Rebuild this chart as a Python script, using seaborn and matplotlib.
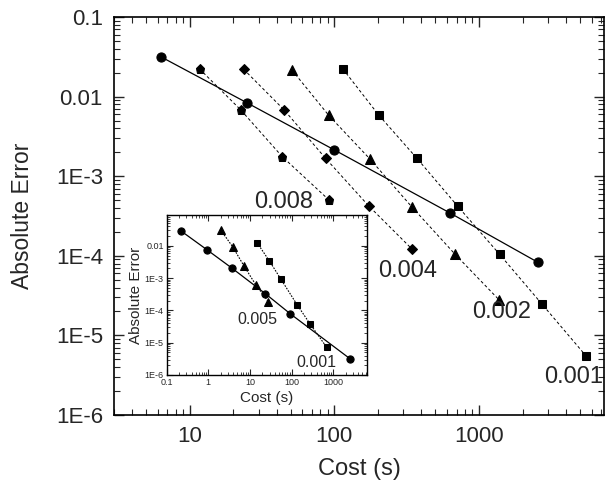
import numpy as np
import pandas as pd
import matplotlib
matplotlib.use("Agg")
import matplotlib.pyplot as plt
import seaborn as sns
from matplotlib.ticker import FuncFormatter, LogLocator, NullFormatter

# ---------------- data (main) ----------------
circ_cost = [6.3, 25.1, 100, 627, 2548]
circ_err = [0.0318, 0.0083, 0.00214, 3.47e-4, 8.3e-5]

p008_cost = [11.7, 22.5, 43.8, 91.6]
p008_err = [0.0223, 0.00684, 0.00175, 5.05e-4]

d004_cost = [23.6, 45.0, 86.9, 172.5, 342]
d004_err = [0.0221, 0.0068, 0.00168, 4.25e-4, 1.23e-4]

t002_cost = [51, 91.6, 176, 344, 685, 1375]
t002_err = [0.0215, 0.0058, 0.00165, 4.1e-4, 1.04e-4, 2.8e-5]

s001_cost = [114.5, 202, 372, 712, 1390, 2730, 5500]
s001_err = [0.0223, 0.00591, 0.00168, 4.2e-4, 1.04e-4, 2.46e-5, 5.5e-6]

# ---------------- data (inset) ----------------
in_circ_cost = [0.22, 0.92, 3.73, 23.4, 94, 2520]
in_circ_err = [0.0292, 0.00767, 0.00203, 3.32e-4, 7.8e-5, 3.2e-6]

in_t005_cost = [1.99, 3.86, 7.2, 14, 28]
in_t005_err = [0.031, 0.0094, 0.0024, 6.1e-4, 1.85e-4]

in_s001_cost = [14.8, 29, 55, 136, 279, 698]
in_s001_err = [0.0126, 0.0035, 9.5e-4, 1.5e-4, 3.8e-5, 7.2e-6]

main_labels = ["0.008", "0.004", "0.002", "0.001"]
inset_labels = ["0.005", "0.001"]
y_tick_vals = [1e-6, 1e-5, 1e-4, 1e-3, 1e-2, 1e-1]
y_tick_text = ["1E-6", "1E-5", "1E-4", "1E-3", "0.01", "0.1"]

sns.set_theme(style="ticks")
plt.rcParams['font.family'] = ['Liberation Sans', 'DejaVu Sans']

fig = plt.figure(figsize=(6.07, 4.87), dpi=100)
ax = fig.add_axes([0.1878, 0.1478, 0.8072, 0.8172])


def ylab(v, pos):
    for tv, tt in zip(y_tick_vals, y_tick_text):
        if abs(np.log10(v) - np.log10(tv)) < 1e-6:
            return tt
    return ""


def xlab(v, pos):
    if v >= 1:
        return "%d" % round(v)
    return "%g" % v


def draw(axis, x, y, marker, ls, ms, lw, dashes=None):
    df = pd.DataFrame({"x": x, "y": y})
    kw = dict(color="black", marker=marker, markersize=ms, linewidth=lw,
              markeredgecolor="black", markerfacecolor="black", sort=False,
              estimator=None, ax=axis, legend=False)
    if ls == "-":
        sns.lineplot(data=df, x="x", y="y", linestyle="-", **kw)
    else:
        sns.lineplot(data=df, x="x", y="y", dashes=False, **kw)
        axis.lines[-1].set_dashes(dashes)


ax.set_xscale("log")
ax.set_yscale("log")

draw(ax, circ_cost, circ_err, "o", "-", 6.6, 0.9)
draw(ax, p008_cost, p008_err, "p", "--", 6.8, 0.7, (3, 2.5))
draw(ax, d004_cost, d004_err, "D", "--", 5.6, 0.7, (3, 2.5))
draw(ax, t002_cost, t002_err, "^", "--", 7.0, 0.7, (3, 2.5))
draw(ax, s001_cost, s001_err, "s", "--", 5.8, 0.7, (3, 2.5))

ax.set_xlim(3.0, 7300)
ax.set_ylim(1e-6, 0.1)
ax.set_xlabel("Cost (s)", fontsize=17, labelpad=8)
ax.set_ylabel("Absolute Error", fontsize=16.5, labelpad=16)
ax.yaxis.set_major_locator(LogLocator(base=10, numticks=10))
ax.yaxis.set_major_formatter(FuncFormatter(ylab))
ax.yaxis.set_minor_formatter(NullFormatter())
ax.xaxis.set_major_locator(LogLocator(base=10, numticks=10))
ax.xaxis.set_major_formatter(FuncFormatter(xlab))
ax.xaxis.set_minor_formatter(NullFormatter())
ax.tick_params(which="major", direction="in", length=7, width=1.0, labelsize=16,
               top=True, right=True, pad=8)
ax.tick_params(which="minor", direction="in", length=4, width=0.8, top=True, right=True)
for s in ax.spines.values():
    s.set_linewidth(1.2)
    s.set_color("black")

ax.text(71, 4.8e-4, main_labels[0], fontsize=17, ha="right", va="center")
ax.text(323, 6.4e-5, main_labels[1], fontsize=17, ha="center", va="center")
ax.text(1443, 1.95e-5, main_labels[2], fontsize=17, ha="center", va="center")
ax.text(7150, 3.0e-6, main_labels[3], fontsize=17, ha="right", va="center")

# ---------------- inset ----------------
ins = fig.add_axes([0.2743, 0.2300, 0.3295, 0.3285])
ins.set_xscale("log")
ins.set_yscale("log")
draw(ins, in_circ_cost, in_circ_err, "o", "-", 5.2, 0.9)
draw(ins, in_t005_cost, in_t005_err, "^", ":", 5.6, 0.8, (1.5, 1.2))
draw(ins, in_s001_cost, in_s001_err, "s", ":", 4.6, 0.8, (1.5, 1.2))
ins.set_xlim(0.1, 6300)
ins.set_ylim(1e-6, 0.09)
ins.set_xlabel("Cost (s)", fontsize=11, labelpad=3)
ins.set_ylabel("Absolute Error", fontsize=11, labelpad=1)
ins.yaxis.set_major_locator(LogLocator(base=10, numticks=10))
ins.yaxis.set_major_formatter(FuncFormatter(ylab))
ins.yaxis.set_minor_formatter(NullFormatter())
ins.xaxis.set_major_locator(LogLocator(base=10, numticks=10))
ins.xaxis.set_major_formatter(FuncFormatter(xlab))
ins.xaxis.set_minor_formatter(NullFormatter())
ins.tick_params(which="major", direction="in", length=4, width=0.8, labelsize=6.5,
                top=True, right=True, pad=2)
ins.tick_params(which="minor", direction="in", length=2, width=0.6, top=True, right=True)
for s in ins.spines.values():
    s.set_linewidth(1.0)
    s.set_color("black")
ins.text(15.2, 5.3e-5, inset_labels[0], fontsize=11.5, ha="center", va="center")
ins.text(402, 2.4e-6, inset_labels[1], fontsize=11.5, ha="center", va="center")

fig.savefig("out.png", dpi=100)
